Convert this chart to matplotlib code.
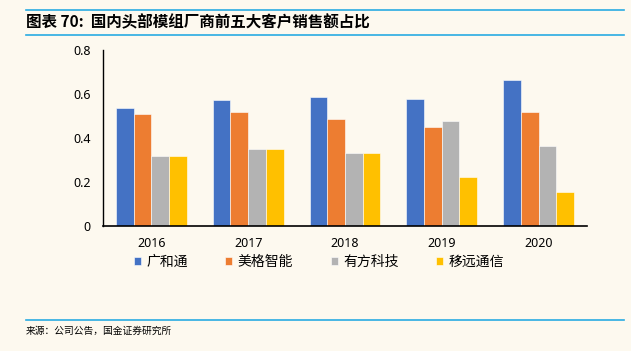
import numpy as np
import matplotlib
matplotlib.use("Agg")
import matplotlib.pyplot as plt
from matplotlib.lines import Line2D

plt.rcParams['font.family'] = ['Noto Sans CJK SC', 'DejaVu Sans']

years = ['2016', '2017', '2018', '2019', '2020']
companies = ['广和通', '美格智能', '有方科技', '移远通信']
fibocom = [0.535, 0.573, 0.585, 0.577, 0.664]
meig = [0.508, 0.518, 0.485, 0.451, 0.518]
neoway = [0.320, 0.349, 0.332, 0.479, 0.364]
quectel = [0.320, 0.349, 0.332, 0.221, 0.155]
colors = ['#4472C4', '#ED7D31', '#B3B3B3', '#FFC000']

bg = '#FDF9EF'
fig = plt.figure(figsize=(6.31, 3.51), dpi=100, facecolor=bg)
ax = fig.add_axes([0.1632, 0.356, 0.767, 0.5015], facecolor=bg)

series = [fibocom, meig, neoway, quectel]
x = np.arange(len(years))
w = 0.183
for i, vals in enumerate(series):
    ax.bar(x + (i - 1.5) * w, vals, width=w, color=colors[i],
           edgecolor='white', linewidth=0.4, label=companies[i])

ax.set_xlim(-0.5, len(years) - 0.5)
ax.set_ylim(0, 0.8)
ax.set_yticks([0, 0.2, 0.4, 0.6, 0.8])
ax.set_yticklabels(['0', '0.2', '0.4', '0.6', '0.8'])
ax.set_xticks(x)
ax.set_xticklabels(years)
for lab in ax.get_xticklabels() + ax.get_yticklabels():
    lab.set_fontfamily('Noto Sans')
    lab.set_fontsize(9)
ax.tick_params(axis='x', length=0, pad=8)
ax.tick_params(axis='y', length=0, pad=9)
for s in ['top', 'right']:
    ax.spines[s].set_visible(False)
ax.spines['left'].set_linewidth(1.0)
ax.spines['bottom'].set_linewidth(1.2)

leg = fig.legend(loc='center left', bbox_to_anchor=(0.212, 0.254), ncol=4,
                 frameon=False, fontsize=10, handlelength=0.5, handleheight=0.5,
                 handletextpad=0.4, columnspacing=2.7, borderaxespad=0,
                 borderpad=0)

# header / footer
line_col = '#29ABE2'
fig.add_artist(Line2D([26 / 631, 624 / 631], [1 - 10 / 351] * 2, color=line_col, lw=1.2))
fig.add_artist(Line2D([26 / 631, 624 / 631], [1 - 35 / 351] * 2, color=line_col, lw=1.2))
fig.add_artist(Line2D([26 / 631, 624 / 631], [1 - 320 / 351] * 2, color=line_col, lw=1.2))
fig.text(26 / 631, 1 - 22 / 351, '图表 70:  国内头部模组厂商前五大客户销售额占比',
         fontsize=11.2, fontweight='bold', va='center', ha='left')
fig.text(26 / 631, 1 - 331 / 351, '来源：公司公告，国金证券研究所',
         fontsize=7, va='center', ha='left')

fig.savefig('out.png', dpi=100, facecolor=bg)
